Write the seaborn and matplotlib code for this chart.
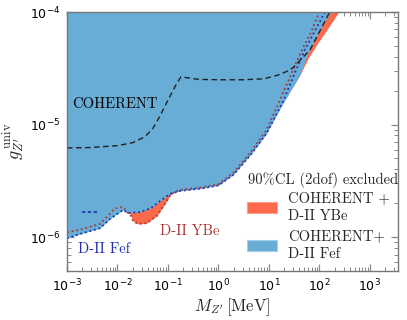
import numpy as np
import pandas as pd
import matplotlib
matplotlib.use("Agg")
import matplotlib.pyplot as plt
import matplotlib.patches as mpatches
import seaborn as sns

# ---- data ----
fef_fill_x = [1e-3, 2e-3, 4.5e-3, 7.1e-3, 0.0128, 0.0161, 0.028, 0.045, 0.07, 0.11,
              0.17, 0.27, 0.5, 1, 2, 4.5, 9, 19, 41, 60, 90, 130, 170]
fef_fill_y = [0.98e-6, 1.08e-6, 1.2e-6, 1.45e-6, 1.74e-6, 1.64e-6, 1.67e-6, 1.8e-6,
              2.09e-6, 2.42e-6, 2.57e-6, 2.63e-6, 2.72e-6, 2.88e-6, 3.6e-6, 5.5e-6,
              8.3e-6, 1.55e-5, 2.75e-5, 4.4e-5, 6.2e-5, 8.3e-5, 1e-4]

ybe_fill_x = [1e-3, 4.5e-3, 0.0089, 0.0128, 0.0161, 0.0177, 0.0203, 0.0255, 0.038, 0.06,
              0.087, 0.11, 0.14, 0.2, 1, 9, 41, 60, 90, 130, 180, 240]
ybe_fill_y = [1.1e-6, 1.31e-6, 1.8e-6, 1.85e-6, 1.64e-6, 1.62e-6, 1.39e-6, 1.31e-6,
              1.33e-6, 1.54e-6, 1.97e-6, 2.35e-6, 2.55e-6, 2.66e-6, 3.0e-6, 9e-6,
              2.75e-5, 3.9e-5, 5.2e-5, 6.6e-5, 8.2e-5, 1e-4]

ybe_line_x = [1e-3, 2e-3, 4.5e-3, 0.0089, 0.0128, 0.0161, 0.0177, 0.0203, 0.0255, 0.038,
              0.06, 0.087, 0.11, 0.14, 0.2, 0.4, 1, 2, 4.5, 9, 26, 45, 70, 100]
ybe_line_y = [1.1e-6, 1.18e-6, 1.31e-6, 1.8e-6, 1.85e-6, 1.64e-6, 1.62e-6, 1.39e-6,
              1.31e-6, 1.33e-6, 1.54e-6, 1.97e-6, 2.35e-6, 2.55e-6, 2.66e-6, 2.74e-6,
              2.95e-6, 3.75e-6, 5.8e-6, 9e-6, 2.63e-5, 4.6e-5, 6.8e-5, 1e-4]

fef_line_x = [1e-3, 2e-3, 4.5e-3, 7.1e-3, 0.0128, 0.0161, 0.028, 0.045, 0.07, 0.11,
              0.17, 0.27, 0.5, 1, 2, 4.5, 9, 19, 30, 51, 129]
fef_line_y = [0.98e-6, 1.08e-6, 1.2e-6, 1.45e-6, 1.74e-6, 1.64e-6, 1.67e-6, 1.8e-6,
              2.09e-6, 2.42e-6, 2.57e-6, 2.63e-6, 2.72e-6, 2.88e-6, 3.6e-6, 5.5e-6,
              8.4e-6, 1.6e-5, 2.63e-5, 4.6e-5, 1e-4]

fef_island_x = [2e-3, 3.9e-3]
fef_island_y = [1.66e-6, 1.66e-6]

coh_x = [1e-3, 3e-3, 0.01, 0.02, 0.035, 0.05, 0.07, 0.1, 0.14, 0.18, 0.25, 0.4, 1, 3, 8,
         15, 22, 30, 65, 160]
coh_y = [6.2e-6, 6.25e-6, 6.5e-6, 6.9e-6, 7.8e-6, 9.2e-6, 1.2e-5, 1.65e-5, 2.2e-5, 2.65e-5,
         2.6e-5, 2.52e-5, 2.5e-5, 2.5e-5, 2.55e-5, 2.75e-5, 2.95e-5, 3.2e-5, 4.6e-5, 1e-4]

legend_labels = ["COHERENT +\nD-II YBe", "COHERENT+\nD-II Fef"]
legend_title = "90%CL (2dof) excluded"

# ---- style ----
sns.set_style("ticks")
plt.rcParams["font.family"] = ["DejaVu Sans"]
plt.rcParams["mathtext.fontset"] = "cm"

BLUE = "#67add6"
RED = "#fb6a4a"
DRED = "#a8363a"
DBLUE = "#1f2fb0"
SERIF = "cmr10"

fig = plt.figure(figsize=(4.07, 3.20), dpi=100)
ax = fig.add_axes([67 / 407, 1 - 271 / 320, (398 - 67) / 407, (271 - 12) / 320])
ax.set_xscale("log")
ax.set_yscale("log")

TOP = 2e-4
ax.fill_between(ybe_fill_x, ybe_fill_y, TOP, color=RED, lw=0, zorder=1)
ax.fill_between(fef_fill_x, fef_fill_y, TOP, color=BLUE, lw=0, zorder=2)

def line(x, y, **kw):
    df = pd.DataFrame({"x": x, "y": y})
    sns.lineplot(data=df, x="x", y="y", ax=ax, estimator=None, sort=False, **kw)

line(ybe_line_x, ybe_line_y, color=DRED, linestyle=(0, (1, 1.6)), lw=1.3, zorder=4)
line(fef_line_x, fef_line_y, color=DBLUE, linestyle=(0, (1, 1.6)), lw=1.3, zorder=4)
line(fef_island_x, fef_island_y, color=DBLUE, linestyle=(0, (2, 1.5)), lw=1.2, zorder=4)
line(coh_x, coh_y, color="#222222", linestyle=(0, (4, 2.5)), lw=1.0, zorder=5)

ax.set_xlim(1e-3, 3.6e3)
ax.set_ylim(5e-7, 1e-4)

ax.text(1.26e-3, 1.4e-5, "COHERENT", family=SERIF, fontsize=10.5, color="black",
        ha="left", va="baseline", zorder=6)
ax.text(0.069, 1.13e-6, "D-II YBe", family=SERIF, fontsize=10.5, color=DRED,
        ha="left", va="center", zorder=6)
ax.text(1.65e-3, 7.8e-7, "D-II Fef", family=SERIF, fontsize=10.5, color=DBLUE,
        ha="left", va="center", zorder=6)

ax.set_xlabel(r"$M_{Z'}\,[\mathrm{MeV}]$", fontsize=12, labelpad=1)
ax.set_ylabel(r"$g_{Z'}^{\,\mathrm{univ}}$", fontsize=13, labelpad=2)

for s in ax.spines.values():
    s.set_color("#777777")
    s.set_linewidth(1.0)
    s.set_zorder(7)
ax.tick_params(which="both", direction="in", top=True, right=True, color="#888888",
               labelsize=9, labelcolor="black")
ax.tick_params(which="major", length=5, width=0.9, pad=5)
ax.tick_params(which="minor", length=3, width=0.7)
ax.xaxis.set_major_locator(matplotlib.ticker.LogLocator(base=10, numticks=12))
ax.xaxis.set_minor_locator(matplotlib.ticker.LogLocator(base=10, subs=np.arange(2, 10), numticks=12))

fig.text(248 / 407, 1 - 180 / 320, legend_title, family=SERIF, fontsize=10.5,
         ha="left", va="center", zorder=8)

handles = [mpatches.Patch(facecolor=RED, edgecolor="#fca08a", lw=0.8),
           mpatches.Patch(facecolor=BLUE, edgecolor="#a5cfe8", lw=0.8)]
leg = ax.legend(handles, legend_labels, frameon=False,
                loc="upper left", bbox_to_anchor=(244 / 407, 1 - 189 / 320),
                bbox_transform=fig.transFigure, prop={"family": SERIF, "size": 10.5},
                handlelength=2.05, handleheight=0.75, handletextpad=0.8,
                labelspacing=0.5, borderpad=0.2, borderaxespad=0.0)
for t in leg.get_texts():
    t.set_linespacing(1.3)
leg.set_zorder(8)

fig.savefig("out.png", dpi=100)
